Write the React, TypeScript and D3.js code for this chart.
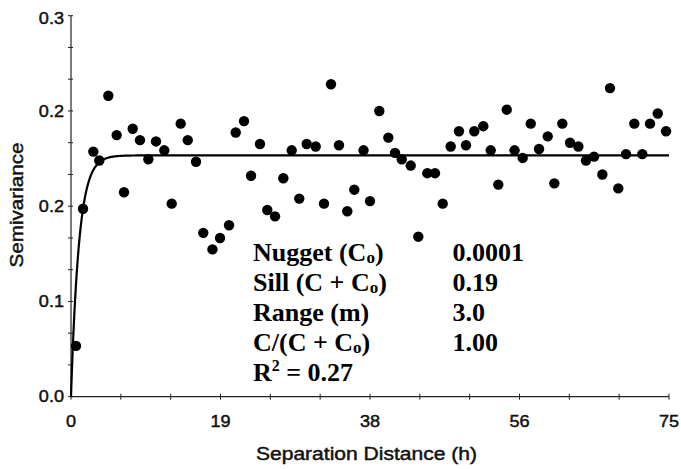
import React from "react";
import * as d3 from "d3";

const lagDistances = [
  0.63, 1.51, 2.8, 3.55, 4.68, 5.73, 6.65, 7.74, 8.65, 9.7, 10.66, 11.7, 12.63, 13.76, 14.64,
  15.68, 16.59, 17.74, 18.69, 19.82, 20.66, 21.7, 22.58, 23.7, 24.62, 25.59, 26.63, 27.68,
  28.63, 29.56, 30.69, 31.73, 32.61, 33.61, 34.65, 35.53, 36.69, 37.5, 38.67, 39.8, 40.64,
  41.48, 42.61, 43.56, 44.69, 45.65, 46.62, 47.62, 48.66, 49.54, 50.58, 51.71, 52.64, 53.59,
  54.65, 55.63, 56.65, 57.66, 58.7, 59.79, 60.62, 61.62, 62.59, 63.63, 64.59, 65.6, 66.64,
  67.6, 68.64, 69.61, 70.65, 71.65, 72.62, 73.59, 74.63,
];

const semivariances = [
  0.04, 0.148, 0.193, 0.186, 0.237, 0.206, 0.161, 0.211, 0.202, 0.187, 0.201, 0.194, 0.152,
  0.215, 0.202, 0.185, 0.129, 0.116, 0.125, 0.135, 0.208, 0.217, 0.174, 0.199, 0.147, 0.142,
  0.172, 0.194, 0.156, 0.199, 0.197, 0.152, 0.246, 0.198, 0.146, 0.163, 0.194, 0.154, 0.225,
  0.204, 0.192, 0.187, 0.182, 0.126, 0.176, 0.176, 0.152, 0.197, 0.209, 0.198, 0.209, 0.213,
  0.194, 0.167, 0.226, 0.194, 0.188, 0.215, 0.195, 0.205, 0.168, 0.215, 0.2, 0.197, 0.186,
  0.189, 0.175, 0.243, 0.164, 0.191, 0.215, 0.191, 0.215, 0.223, 0.209,
];

const xTickLabels = ["0", "19", "38", "56", "75"];
const yTickLabels = ["0.0", "0.1", "0.2", "0.2", "0.3"];

const nugget = 0.0001;
const sill = 0.19;
const rangeA = 3.0;

const statLabels = ["Nugget (C", "Sill (C + C", "Range (m)", "C/(C + C", "R"];
const statValues = ["0.0001", "0.19", "3.0", "1.00", ""];

const W = 681;
const H = 469;
const left = 71;
const right = 669;
const top = 15.7;
const bottom = 396.7;

const SANS = "'Liberation Sans', Arial, sans-serif";
const SERIF = "'Liberation Serif', 'Times New Roman', serif";

function SText({ x, y, anchor, size, children, rotate = 0, stretch = 1.15 }: any) {
  return (
    <text
      transform={`translate(${x},${y}) rotate(${rotate}) scale(${stretch},1)`}
      textAnchor={anchor}
      fontFamily={SANS}
      fontSize={size}
      fill="#111"
      stroke="#111"
      strokeWidth={0.45}
    >
      {children}
    </text>
  );
}

export default function App() {
  const x = d3.scaleLinear().domain([0, 75]).range([left, right]);
  const y = d3.scaleLinear().domain([0, 0.3]).range([bottom, top]);

  const xMinor = d3.range(13).map((i) => (75 / 12) * i);
  const yMinor = d3.range(13).map((i) => (0.3 / 12) * i);

  const model = (h: number) => (h <= 0 ? 0 : nugget + (sill - nugget) * (1 - Math.exp((-3 * h) / rangeA)));
  const curveHs = d3.range(0, 75.0001, 0.05);
  const line = d3
    .line<number>()
    .x((h) => x(h))
    .y((h) => y(model(h)));

  const statX = 253;
  const valX = 452.5;
  const baseY = 261;
  const lineGap = 30;

  return (
    <svg
      width={W}
      height={H}
      style={{ position: "absolute", left: 0, top: 0, background: "#fff" }}
    >
      <rect x={0} y={0} width={W} height={H} fill="#fff" />
      <line x1={left} x2={left} y1={top} y2={bottom} stroke="#222" strokeWidth={1.2} />
      <line x1={left} x2={right} y1={bottom} y2={bottom} stroke="#222" strokeWidth={1.2} />
      {yMinor.map((t, i) => (
        <line key={"yt" + i} x1={left - 3} x2={left + 2} y1={y(t)} y2={y(t)} stroke="#222" strokeWidth={1} />
      ))}
      {xMinor.map((t, i) => (
        <line key={"xt" + i} x1={x(t)} x2={x(t)} y1={bottom - 3} y2={bottom + 3} stroke="#222" strokeWidth={1} />
      ))}
      {yTickLabels.map((lab, i) => {
        const yy = Math.max(y(yMinor[i * 3]) + 5.7, 24);
        return (
          <SText key={"yl" + i} x={64} y={yy} anchor="end" size={16} stretch={1.13}>
            {lab}
          </SText>
        );
      })}
      {xTickLabels.map((lab, i) => (
        <SText key={"xl" + i} x={x(xMinor[i * 3])} y={426.5} anchor="middle" size={16} stretch={1.13}>
          {lab}
        </SText>
      ))}
      <SText x={366.5} y={460} anchor="middle" size={18.3} stretch={1.15}>
        Separation Distance (h)
      </SText>
      <SText x={23} y={205} anchor="middle" size={18.3} stretch={1.13} rotate={-90}>
        Semivariance
      </SText>

      <path d={line(curveHs) || ""} fill="none" stroke="#000" strokeWidth={2.2} />

      {lagDistances.map((h, i) => (
        <circle key={"p" + i} cx={x(h)} cy={y(semivariances[i])} r={5.2} fill="#000" />
      ))}

      {statLabels.map((lab, i) => {
        const yy = baseY + i * lineGap;
        const hasSub = lab.endsWith("C");
        return (
          <g key={"s" + i}>
            <text x={statX} y={yy} fontFamily={SERIF} fontWeight="bold" fontSize={26} fill="#000">
              {lab}
              {hasSub ? (
                <>
                  <tspan fontSize={17} dy={1.5}>o</tspan>
                  <tspan dy={-1.5}>)</tspan>
                </>
              ) : null}
              {i === 4 ? (
                <>
                  <tspan fontSize={16} dy={-10}>2</tspan>
                  <tspan dy={10}> = 0.27</tspan>
                </>
              ) : null}
            </text>
            {statValues[i] ? (
              <text x={valX} y={yy} fontFamily={SERIF} fontWeight="bold" fontSize={26} fill="#000">
                {statValues[i]}
              </text>
            ) : null}
          </g>
        );
      })}
    </svg>
  );
}
